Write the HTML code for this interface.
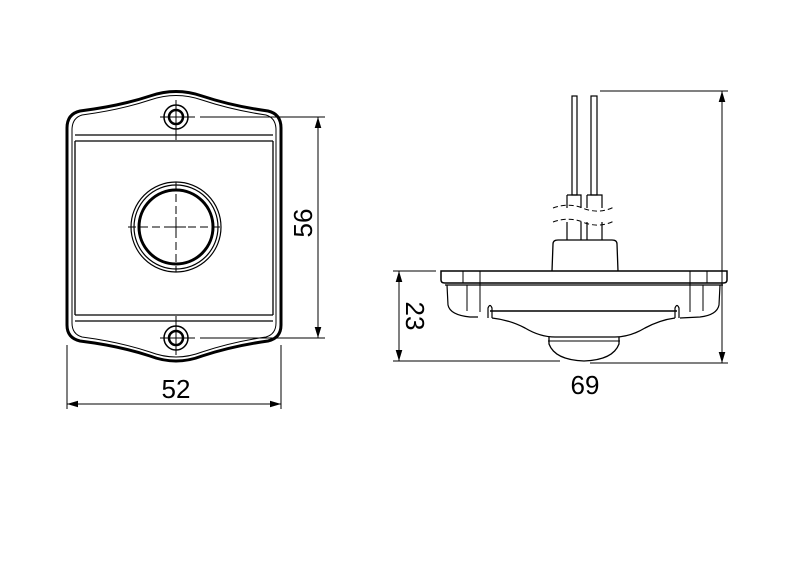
<!DOCTYPE html>
<html><head><meta charset="utf-8"><style>
html,body{margin:0;padding:0;background:#fff;}
svg{display:block;}
text{font-family:"Liberation Sans",sans-serif;font-size:26px;fill:#000;}
</style></head><body>
<svg width="800" height="566" viewBox="0 0 800 566" xmlns="http://www.w3.org/2000/svg">
<defs>
<marker id="a" viewBox="0 0 10 10" refX="10" refY="5" markerWidth="11" markerHeight="11" orient="auto-start-reverse" markerUnits="userSpaceOnUse">
<path d="M0,2 L10,5 L0,8 z" fill="#000"/></marker>
</defs>
<g fill="none" stroke="#000">
<path d="M80,111 Q120,106 150,96 Q176,87 202,96 Q232,106 268,111 Q281,114 281,128 L281,325 Q281,338 268,341 Q232,346 202,356 Q176,366 150,356 Q120,346 80,341 Q67,338 67,325 L67,128 Q67,114 80,111 Z" stroke-width="3"/>
<path d="M82,115 Q120,110 150,100 Q176,91 202,100 Q232,110 266,115 Q276,118 276,130 L276,323 Q276,334 266,337 Q232,342 202,352 Q176,362 150,352 Q120,342 82,337 Q72,334 72,323 L72,130 Q72,118 82,115 Z" stroke-width="1"/>
<line x1="75" y1="135" x2="273" y2="135" stroke-width="1.3"/>
<line x1="75" y1="141" x2="273" y2="141" stroke-width="1.3"/>
<line x1="75" y1="315" x2="273" y2="315" stroke-width="1.3"/>
<line x1="75" y1="321" x2="273" y2="321" stroke-width="1.3"/>
<line x1="75" y1="141" x2="75" y2="315" stroke-width="1.3"/>
<line x1="273" y1="141" x2="273" y2="315" stroke-width="1.3"/>
<circle cx="176" cy="117" r="12" stroke-width="1.5"/>
<circle cx="176" cy="117" r="7" stroke-width="2.5"/>
<circle cx="176" cy="338" r="12" stroke-width="1.5"/>
<circle cx="176" cy="338" r="7" stroke-width="2.5"/>
<line x1="176" y1="100" x2="176" y2="140" stroke-width="1"/>
<line x1="160" y1="117" x2="195" y2="117" stroke-width="1"/>
<line x1="176" y1="316" x2="176" y2="355" stroke-width="1"/>
<line x1="160" y1="338" x2="195" y2="338" stroke-width="1"/>
<circle cx="176" cy="227" r="45" stroke-width="1.2"/>
<circle cx="176" cy="227" r="42" stroke-width="1.2"/>
<circle cx="176" cy="227" r="37" stroke-width="3"/>
<line x1="176" y1="182" x2="176" y2="272" stroke-width="1" stroke-dasharray="8,4"/>
<line x1="128" y1="227" x2="224" y2="227" stroke-width="1" stroke-dasharray="8,4"/>
<line x1="166" y1="227" x2="186" y2="227" stroke-width="1"/>
<line x1="176" y1="217" x2="176" y2="237" stroke-width="1"/>
<line x1="200" y1="117" x2="325" y2="117" stroke-width="1"/>
<line x1="200" y1="338" x2="325" y2="338" stroke-width="1"/>
<line x1="318" y1="117" x2="318" y2="338" stroke-width="1" marker-start="url(#a)" marker-end="url(#a)"/>
<line x1="67" y1="345" x2="67" y2="409" stroke-width="1"/>
<line x1="281" y1="345" x2="281" y2="409" stroke-width="1"/>
<line x1="67" y1="404" x2="281" y2="404" stroke-width="1" marker-start="url(#a)" marker-end="url(#a)"/>
<rect x="572" y="96" width="5" height="99" stroke-width="1.2"/>
<rect x="591" y="96" width="6" height="99" stroke-width="1.2"/>
<path d="M567,195 L581,195 L581,208 M567,195 L567,208 M587,195 L602,195 L602,208 M587,195 L587,208" stroke-width="1.2"/>
<path d="M567,222 L567,240 M581,222 L581,240 M587,222 L587,240 M602,222 L602,240" stroke-width="1.2"/>
<path d="M553,208 Q570,202 585,209 Q600,214 614,207" stroke-width="1" stroke-dasharray="5,3"/>
<path d="M553,222 Q570,216 585,223 Q600,228 614,221" stroke-width="1" stroke-dasharray="5,3"/>
<path d="M552,271 L553,244 Q553,240 558,240 L612,240 Q617,240 617,244 L618,271" stroke-width="1.3"/>
<path d="M441,271 L727,271 L727,280 Q727,283 723,283 L445,283 Q441,283 441,280 Z" stroke-width="1.5"/>
<line x1="445" y1="285" x2="723" y2="285" stroke-width="1.2"/>
<line x1="463" y1="271" x2="463" y2="283" stroke-width="1"/>
<line x1="480" y1="271" x2="480" y2="312" stroke-width="1"/>
<line x1="690" y1="271" x2="690" y2="312" stroke-width="1"/>
<line x1="707" y1="271" x2="707" y2="283" stroke-width="1"/>
<line x1="467" y1="285" x2="467" y2="311" stroke-width="1"/>
<line x1="703" y1="285" x2="703" y2="311" stroke-width="1"/>
<path d="M447,285 L448,305 Q450,315 470,317 L478,317 M720,285 L719,305 Q717,315 700,317 L680,318" stroke-width="1.2"/>
<line x1="490" y1="311" x2="677" y2="311" stroke-width="1.5"/>
<path d="M488,318 L488,308 Q490,303 492,308 L492,318 M675,318 L675,308 Q677,303 679,308 L679,318" stroke-width="1.2"/>
<path d="M492,318 Q510,320 525,328 Q540,337 555,337 L615,337 Q630,337 645,328 Q660,320 675,318" stroke-width="1.3"/>
<line x1="548" y1="341" x2="620" y2="341" stroke-width="1"/>
<path d="M549,337 L549,344 Q555,360 584,361 Q613,360 619,344 L619,337" stroke-width="1.3"/>
<line x1="600" y1="91" x2="728" y2="91" stroke-width="1"/>
<line x1="590" y1="363" x2="728" y2="363" stroke-width="1"/>
<line x1="722" y1="91" x2="722" y2="363" stroke-width="1" marker-start="url(#a)" marker-end="url(#a)"/>
<line x1="393" y1="271" x2="436" y2="271" stroke-width="1"/>
<line x1="393" y1="361" x2="560" y2="361" stroke-width="1"/>
<line x1="399" y1="271" x2="399" y2="361" stroke-width="1" marker-start="url(#a)" marker-end="url(#a)"/>
</g>
<text x="176" y="398" text-anchor="middle">52</text>
<text x="585" y="394" text-anchor="middle">69</text>
<text transform="translate(312,223) rotate(-90)" text-anchor="middle">56</text>
<text transform="translate(406,316) rotate(90)" text-anchor="middle">23</text>
</svg>
</body></html>
